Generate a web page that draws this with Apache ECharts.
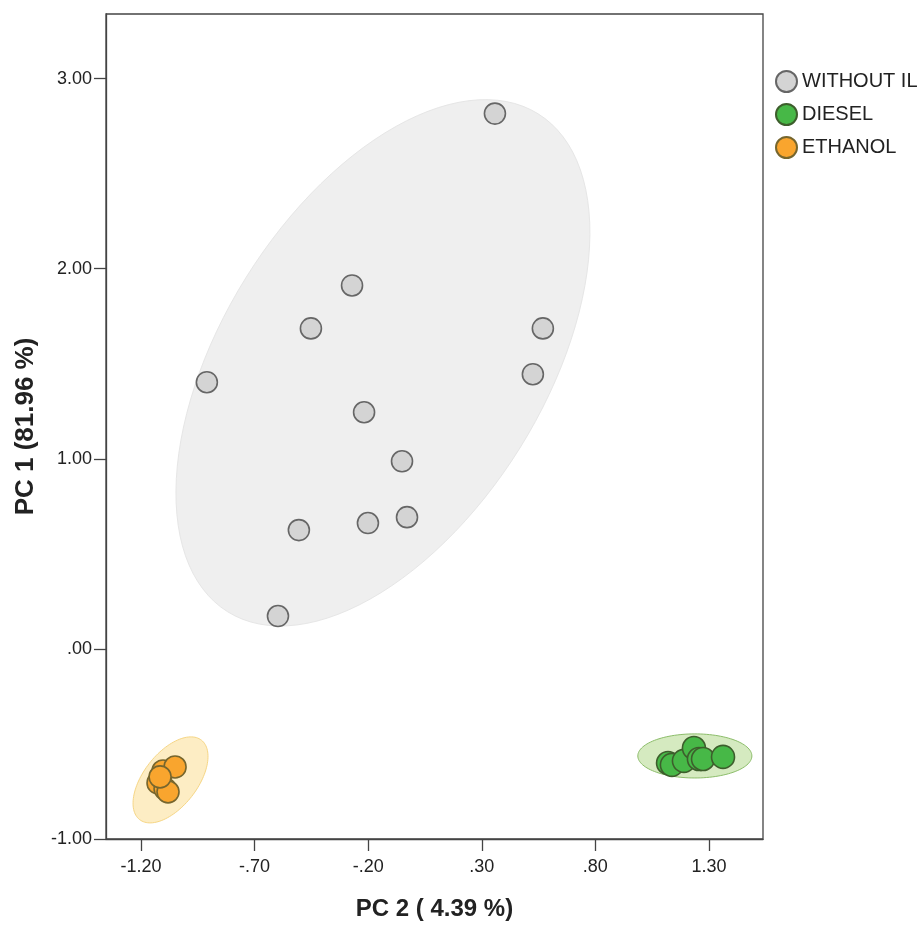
<!DOCTYPE html>
<html>
<head>
<meta charset="utf-8">
<script src="https://cdn.jsdelivr.net/npm/echarts@6/dist/echarts.min.js"></script>
<style>html,body{margin:0;padding:0;background:#fff}#c{width:922px;height:926px}</style>
</head>
<body>
<div id="c"></div>
<script>
// ---- data ----
const groups = ['WITHOUT IL', 'DIESEL', 'ETHANOL'];
const withoutIL = [
  [0.358, 2.816], [-0.271, 1.912], [-0.452, 1.686], [0.569, 1.686],
  [0.525, 1.445], [-0.910, 1.403], [-0.218, 1.245], [-0.051, 0.987],
  [-0.505, 0.625], [-0.201, 0.662], [-0.029, 0.693], [-0.597, 0.173]
];
const diesel = [
  [1.120, -0.600], [1.137, -0.610], [1.190, -0.589], [1.234, -0.521],
  [1.256, -0.579], [1.274, -0.579], [1.362, -0.568]
];
const ethanol = [
  [-1.103, -0.642], [-1.050, -0.621], [-1.125, -0.705], [-1.094, -0.736],
  [-1.081, -0.752], [-1.116, -0.673]
];
// confidence ellipses: centre and semi-axis vectors, in data units
const ellipseCenters = [[-0.135, 1.505], [1.238, -0.563], [-1.070, -0.689]];
const ellipseMajor = [[0.683, 1.310], [0.251, 0.0], [0.136, 0.209]];
const ellipseMinor = [[0.603, -0.448], [0.0, 0.116], [0.0934, -0.0867]];
const xTicks = [-1.2, -0.7, -0.2, 0.3, 0.8, 1.3];
const yTicks = [-1, 0, 1, 2, 3];

// ---- styles ----
const fills = ['#d4d4d4', '#47b847', '#f9a52e'];
const borders = ['#666666', '#3d5e2c', '#76662e'];
const ellFill = ['#efefef', '#d5eac0', '#fdedc4'];
const ellBorder = ['#e6e6e6', '#8cbd6a', '#f6d685'];

function fmt(v, d) {
  let s = Math.abs(v).toFixed(d);
  if (s.startsWith('0')) s = s.slice(1);
  return (v < 0 ? '-' : '') + s;
}

function ellipseSeries(i) {
  return {
    type: 'custom',
    name: 'ell' + i,
    z: 1,
    silent: true,
    data: [[ellipseCenters[i][0], ellipseCenters[i][1]]],
    renderItem: function (params, api) {
      const c = ellipseCenters[i], u = ellipseMajor[i], v = ellipseMinor[i];
      const pts = [];
      for (let k = 0; k < 120; k++) {
        const t = 2 * Math.PI * k / 120;
        pts.push(api.coord([c[0] + u[0] * Math.cos(t) + v[0] * Math.sin(t),
                            c[1] + u[1] * Math.cos(t) + v[1] * Math.sin(t)]));
      }
      return {
        type: 'polygon',
        shape: { points: pts, smooth: 0 },
        style: { fill: ellFill[i], stroke: ellBorder[i], lineWidth: 1 }
      };
    }
  };
}

function scatterSeries(i, data, size) {
  return {
    type: 'scatter',
    name: groups[i],
    z: 3,
    data: data,
    symbol: 'circle',
    symbolSize: size,
    itemStyle: { color: fills[i], borderColor: borders[i], borderWidth: 1.6, opacity: 1 }
  };
}

const chart = echarts.init(document.getElementById('c'));
chart.setOption({
  animation: false,
  backgroundColor: '#ffffff',
  textStyle: { fontFamily: 'Liberation Sans, Arial, sans-serif' },
  grid: { left: 106, right: 159, top: 14, bottom: 86, show: true, borderColor: '#444', borderWidth: 1.3, backgroundColor: 'transparent' },
  legend: {
    data: groups,
    orient: 'vertical',
    left: 775,
    top: 70,
    padding: 0,
    itemWidth: 21,
    itemHeight: 22,
    itemGap: 10,
    icon: 'circle',
    textStyle: { fontSize: 20, color: '#222' }
  },
  xAxis: {
    type: 'value',
    min: -1.354, max: 1.538,
    splitLine: { show: false },
    axisLine: { show: true, onZero: false, lineStyle: { color: '#444', width: 1.3 } },
    axisTick: { show: true, length: 12, customValues: xTicks, lineStyle: { color: '#444', width: 1.3 } },
    axisLabel: { customValues: xTicks, formatter: v => fmt(v, 2), fontSize: 18, color: '#222', margin: 19 },
    name: 'PC 2 ( 4.39 %)',
    nameLocation: 'middle',
    nameGap: 58,
    nameTextStyle: { fontSize: 24, fontWeight: 'bold', color: '#222' }
  },
  yAxis: {
    type: 'value',
    min: -1, max: 3.34,
    splitLine: { show: false },
    axisLine: { show: true, onZero: false, lineStyle: { color: '#444', width: 1.3 } },
    axisTick: { show: true, length: 12, customValues: yTicks, lineStyle: { color: '#444', width: 1.3 } },
    axisLabel: { customValues: yTicks, formatter: v => fmt(v, 2), fontSize: 18, color: '#222', margin: 14 },
    name: 'PC 1 (81.96 %)',
    nameLocation: 'middle',
    nameGap: 67,
    nameTextStyle: { fontSize: 26, fontWeight: 'bold', color: '#222' }
  },
  series: [
    ellipseSeries(0), ellipseSeries(1), ellipseSeries(2),
    scatterSeries(0, withoutIL, 21),
    scatterSeries(1, diesel, 23),
    scatterSeries(2, ethanol, 22)
  ]
});
</script>
</body>
</html>
